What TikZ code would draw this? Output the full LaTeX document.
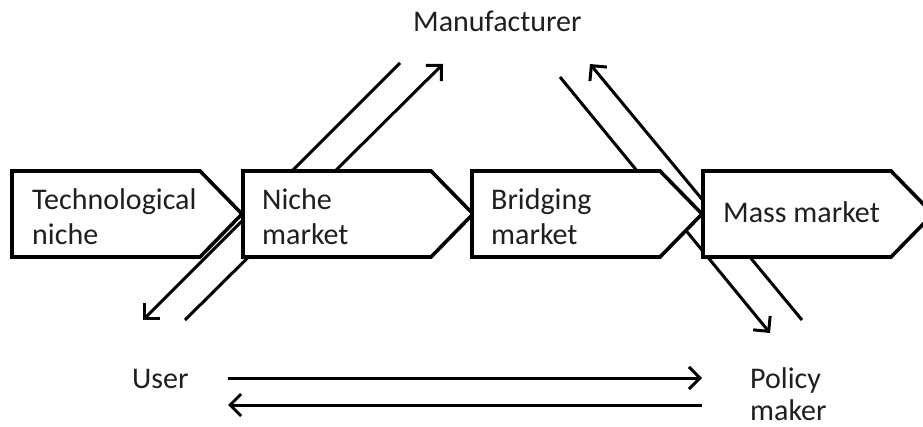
\documentclass[tikz,border=0pt]{standalone}
\usepackage{fontspec}
\setmainfont{Carlito}
\usetikzlibrary{arrows.meta}
\begin{document}
\begin{tikzpicture}[x=1pt,y=-1pt,
  stage/.style={draw=black, line width=3.6pt, fill=white, line join=miter},
  flow/.style={line width=3pt, -{Straight Barb[length=11pt,width=22pt,line width=3pt]}},
  lbl/.style={anchor=base west, inner sep=0pt, text=black!88, font=\fontsize{30}{36}\selectfont},
]
\useasboundingbox (0,0) rectangle (923,427);

% end points of the exchange arrows
\coordinate (mu1) at (400,63);  \coordinate (mu2) at (143,320);
\coordinate (um1) at (185,320); \coordinate (um2) at (443,64);
\coordinate (mp1) at (560,77);  \coordinate (mp2) at (770,333);
\coordinate (pm1) at (802,320); \coordinate (pm2) at (590,64);
\coordinate (up1) at (228,378); \coordinate (up2) at (702,378);
\coordinate (pu1) at (702,405); \coordinate (pu2) at (228,405);

% diagonal flows (behind the stages)
\draw[flow] (mu1) -- (mu2);
\draw[flow] (um1) -- (um2);
\draw[flow] (mp1) -- (mp2);
\draw[flow] (pm1) -- (pm2);

% stages of the transition
\foreach \x in {12,243,472,703}
  \draw[stage] (\x,171) -- ++(188,0) -- ++(42,43) -- ++(-42,43) -- ++(-188,0) -- cycle;

\node[lbl] (s1a) at (32,210) {Technological};
\node[lbl] (s1b) at (32,245) {niche};
\node[lbl] (s2a) at (262,210) {Niche};
\node[lbl] (s2b) at (262,245) {market};
\node[lbl] (s3a) at (491,210) {Bridging};
\node[lbl] (s3b) at (491,245) {market};
\node[lbl] (s4)  at (723,223) {Mass market};

% actors
\node[lbl] (manu) at (413,32) {Manufacturer};
\node[lbl] (user) at (132,388) {User};
\node[lbl] (pola) at (750,388) {Policy};
\node[lbl] (polb) at (750,420) {maker};

% user <-> policy maker
\draw[flow] (up1) -- (up2);
\draw[flow] (pu1) -- (pu2);
\end{tikzpicture}
\end{document}
